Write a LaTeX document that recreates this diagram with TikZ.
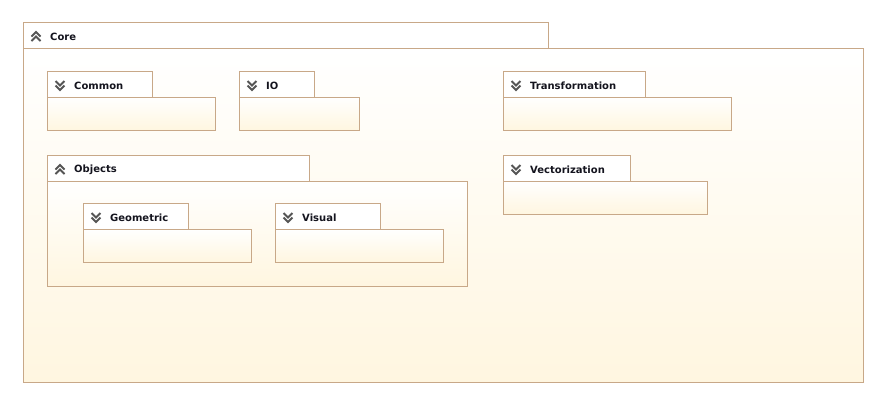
\documentclass[tikz,border=0pt]{standalone}
\usepackage{fontspec}
\setmainfont{DejaVu Sans}
\definecolor{pkgborder}{RGB}{200,168,136}
\definecolor{pkgcream}{RGB}{255,246,224}
\definecolor{chevgray}{RGB}{85,85,85}
\definecolor{labelink}{RGB}{20,20,30}
\tikzset{
  pkgtab/.style={draw=pkgborder, line width=1pt, fill=white, anchor=north west, inner sep=0pt, outer sep=0pt},
  pkgbody/.style={draw=pkgborder, line width=1pt, top color=white, bottom color=pkgcream, anchor=north west, inner sep=0pt, outer sep=0pt},
  pkglabel/.style={anchor=west, inner sep=0pt, font=\bfseries\fontsize{10}{12}\selectfont, text=labelink},
  chev/.style={draw=chevgray, line width=1.8pt, line cap=butt, line join=miter},
  chevdown/.pic={\draw[chev] (-4.5,-4.5)--(0,0)--(4.5,-4.5); \draw[chev] (-4.5,0)--(0,4.5)--(4.5,0);},
  chevup/.pic={\draw[chev] (-4.5,4.5)--(0,0)--(4.5,4.5); \draw[chev] (-4.5,0)--(0,-4.5)--(4.5,0);}
}
% #1 name, #2 label, #3 x, #4 y, #5 tab width, #6 body width, #7 body height, #8 chevup/chevdown
\newcommand\pkgbox[8]{%
  \node[pkgbody, minimum width=#6pt, minimum height=#7pt] (#1-body) at (#3,#4+26) {};
  \node[pkgtab, minimum width=#5pt, minimum height=26pt] (#1-tab) at (#3,#4) {};
  \pic at (#3+13,#4+14.5) {#8};
  \node[pkglabel] (#1-label) at (#3+27,#4+14.5) {#2};
}
\begin{document}
\begin{tikzpicture}[x=1pt,y=-1pt]
\useasboundingbox (0,0) rectangle (887,408);
\fill[white] (0,0) rectangle (887,408);
\pkgbox{core}{Core}{23}{22}{525}{840}{334}{chevup}
\pkgbox{common}{Common}{47}{71}{105}{168}{33}{chevdown}
\pkgbox{io}{IO}{239}{71}{75}{120}{33}{chevdown}
\pkgbox{transformation}{Transformation}{503}{71}{142}{228}{33}{chevdown}
\pkgbox{vectorization}{Vectorization}{503}{155}{127}{204}{33}{chevdown}
\pkgbox{objects}{Objects}{47}{155}{262}{420}{105}{chevup}
\pkgbox{geometric}{Geometric}{83}{203}{105}{168}{33}{chevdown}
\pkgbox{visual}{Visual}{275}{203}{105}{168}{33}{chevdown}
\end{tikzpicture}
\end{document}
